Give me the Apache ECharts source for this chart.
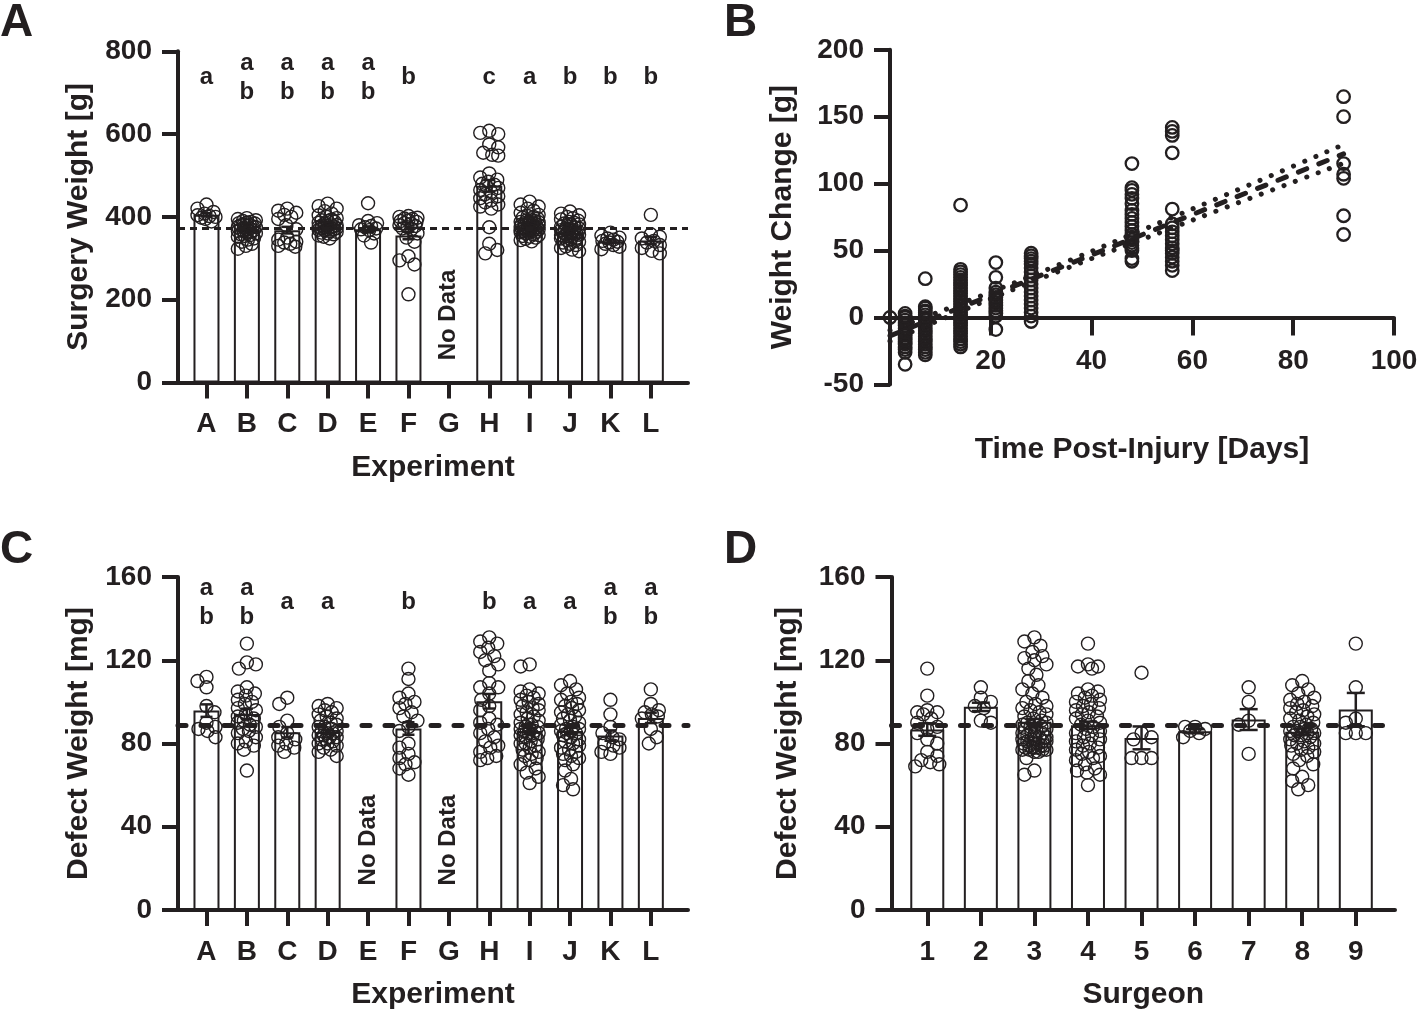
<!DOCTYPE html>
<html>
<head>
<meta charset="utf-8">
<script src="https://cdn.jsdelivr.net/npm/echarts@6/dist/echarts.min.js"></script>
<style>html,body{margin:0;padding:0;background:#fff}#chart{width:1424px;height:1012px}</style>
</head>
<body>
<div id="chart"></div>
<script>
// ---------------- DATA ----------------
const experimentCats = ['A','B','C','D','E','F','G','H','I','J','K','L'];
const surgeonCats = ['1','2','3','4','5','6','7','8','9'];

// Panel A: surgery weight [g] per experiment
const surgeryWeightPoints = [
  [430, 420, 412, 408, 404, 402, 400, 398, 395, 389],
  [397, 395, 392, 390, 388, 386, 385, 384, 382, 380, 380, 378, 377, 376, 375, 374, 372, 370, 370, 368, 366, 365, 364, 362, 360, 358, 356, 354, 352, 348, 345, 340, 335, 330, 323],
  [420, 415, 410, 405, 400, 395, 380, 370, 350, 345, 340, 338, 335, 330, 328],
  [432, 426, 420, 414, 408, 404, 400, 397, 394, 392, 390, 388, 386, 384, 382, 380, 379, 378, 377, 376, 375, 374, 373, 372, 371, 370, 369, 368, 366, 364, 362, 360, 358, 355, 352, 348],
  [433, 390, 385, 380, 378, 375, 372, 370, 368, 360, 355, 338],
  [402, 400, 398, 396, 395, 392, 390, 388, 385, 383, 380, 378, 375, 372, 370, 360, 350, 340, 305, 295, 285, 213],
  [],
  [608, 603, 600, 575, 568, 555, 550, 548, 505, 495, 490, 485, 480, 478, 475, 470, 465, 460, 455, 450, 445, 440, 435, 430, 425, 420, 375, 335, 320, 312],
  [437, 430, 425, 420, 415, 410, 405, 402, 400, 398, 396, 394, 392, 390, 388, 387, 386, 385, 384, 383, 382, 381, 380, 379, 378, 377, 376, 375, 374, 373, 372, 371, 370, 369, 368, 367, 366, 365, 364, 363, 362, 360, 358, 356, 354, 352, 350, 347, 344, 341],
  [413, 408, 404, 400, 397, 394, 391, 388, 386, 384, 382, 380, 378, 376, 374, 372, 370, 369, 368, 366, 365, 364, 362, 361, 360, 358, 357, 356, 354, 353, 352, 350, 348, 346, 344, 342, 340, 338, 335, 332, 329, 325, 321, 317],
  [362, 355, 350, 348, 345, 342, 340, 338, 335, 332, 328, 322],
  [405, 358, 352, 348, 342, 338, 332, 325, 318, 312]
];
const surgeryWeightMeans = [405, 369, 368, 377, 370, 355, null, 475, 373, 361, 341, 343];
const surgeryWeightSEM = [4, 3, 8, 3, 7, 9, null, 14, 2, 3, 4, 9];
const surgeryWeightRef = 373.4;
const surgeryWeightLetters = ['a', 'ab', 'ab', 'ab', 'ab', 'b', '', 'c', 'a', 'b', 'b', 'b'];
const surgeryNoData = ['G'];

// Panel B: weight change [g] vs time post-injury [days]
const timeDays = [0, 3, 7, 14, 21, 28, 48, 56, 90];
const weightChangeByDay = [
  [0],
  [3, 1, 0, -2, -4, -6, -8, -10, -12, -13, -15, -16, -18, -19, -20, -22, -24, -26, -35],
  [29, 8, 7, 5, 4, 2, 0, -2, -4, -6, -8, -10, -12, -14, -16, -18, -20, -22, -24, -26, -28],
  [84, 36, 34, 32, 30, 28, 26, 24, 22, 20, 18, 16, 14, 12, 10, 8, 6, 4, 2, 0, -2, -4, -6, -8, -10, -12, -14, -16, -18, -20, -22],
  [41, 30, 22, 19, 17, 15, 13, 11, 9, 7, 5, 3, 1, -9],
  [48, 46, 44, 42, 40, 37, 34, 31, 28, 25, 22, 19, 16, 13, 10, 7, 4, 1, -3],
  [115, 97, 95, 92, 89, 85, 80, 77, 74, 71, 68, 65, 62, 60, 58, 56, 54, 52, 50, 44, 42],
  [142, 139, 136, 123, 81, 70, 67, 64, 61, 58, 55, 52, 50, 48, 45, 42, 39, 35],
  [165, 150, 115, 107, 104, 76, 62]
];
const fitDays = [0, 90];
const fitValues = [-13.7, 122.2];
const bandDays = [0, 20, 35, 50, 70, 90];
const bandUpper = [-9.7, 19.0, 41.7, 65.3, 97.0, 129.2];
const bandLower = [-17.7, 14.0, 36.7, 58.3, 87.0, 115.2];

// Panel C: defect weight [mg] per experiment
const defectByExperiment = [
  [112, 110, 107, 98, 95, 90, 88, 87, 86, 83],
  [128, 119, 118, 116, 107, 105, 104, 103, 101, 100, 99, 97, 96, 94, 93, 92, 91, 90, 89, 88, 87, 86, 85, 83, 81, 80, 79, 77, 67],
  [102, 99, 91, 88, 85, 83, 82, 80, 79, 78, 76],
  [99, 98, 97, 96, 95, 94, 93, 92, 91, 90, 89, 88, 88, 87, 86, 86, 85, 85, 84, 84, 83, 83, 82, 82, 81, 80, 80, 79, 78, 77, 76, 74],
  [],
  [116, 111, 104, 102, 100, 99, 97, 95, 93, 91, 88, 86, 80, 78, 75, 73, 71, 70, 68, 65],
  [],
  [131, 129, 128, 126, 124, 122, 120, 118, 115, 109, 107, 107, 104, 101, 98, 96, 92, 90, 89, 87, 85, 83, 81, 79, 78, 76, 74, 73, 72],
  [118, 117, 106, 105, 104, 103, 102, 101, 100, 99, 98, 97, 96, 95, 94, 93, 92, 91, 90, 89, 88, 88, 87, 87, 86, 86, 85, 85, 84, 84, 83, 82, 81, 80, 80, 79, 78, 77, 76, 75, 74, 73, 72, 70, 68, 66, 64, 61],
  [110, 108, 106, 104, 102, 101, 100, 99, 98, 97, 96, 95, 94, 93, 92, 91, 90, 89, 88, 87, 87, 86, 86, 85, 85, 84, 83, 82, 81, 80, 79, 78, 77, 76, 75, 74, 73, 72, 70, 67, 63, 60, 58],
  [101, 94, 88, 85, 83, 82, 80, 79, 78, 76, 75],
  [106, 99, 96, 95, 94, 93, 92, 87, 83, 80]
];
const defectExpMeans = [95.8, 94.2, 85.4, 85.5, null, 87.2, null, 100.3, 86.0, 86.0, 83.8, 92.3];
const defectExpSEM = [3, 2.5, 2.5, 1, null, 3, null, 3.5, 1.5, 1.5, 2.5, 2.5];
const defectRef = 89;
const defectExpLetters = ['ab', 'ab', 'a', 'a', '', 'b', '', 'b', 'a', 'a', 'ab', 'ab'];
const defectNoData = ['E', 'G'];

// Panel D: defect weight [mg] per surgeon
const defectBySurgeon = [
  [116, 103, 96, 95, 95, 94, 92, 90, 88, 87, 85, 82, 80, 76, 74, 72, 71, 70, 69],
  [107, 102, 100, 98, 97, 91, 90],
  [131, 129, 127, 124, 122, 121, 120, 118, 116, 113, 110, 108, 106, 104, 102, 100, 99, 98, 97, 96, 95, 94, 93, 92, 91, 90, 90, 89, 89, 88, 88, 87, 87, 86, 86, 85, 85, 84, 84, 83, 83, 82, 82, 82, 81, 81, 81, 80, 80, 80, 79, 79, 79, 78, 78, 78, 78, 77, 77, 77, 77, 76, 76, 73, 67, 65],
  [128, 118, 117, 117, 116, 106, 105, 104, 103, 102, 101, 100, 99, 98, 97, 96, 95, 94, 93, 92, 91, 90, 89, 88, 87, 86, 85, 84, 83, 82, 81, 80, 79, 78, 77, 76, 75, 74, 73, 72, 70, 68, 67, 66, 65, 60],
  [114, 85, 83, 82, 73, 73, 73],
  [88, 88, 87, 86, 85, 83],
  [107, 100, 91, 89, 75],
  [110, 108, 106, 104, 102, 101, 100, 99, 98, 97, 96, 95, 94, 93, 92, 91, 90, 89, 88, 88, 87, 87, 86, 86, 85, 85, 84, 84, 83, 82, 81, 80, 80, 79, 78, 77, 76, 75, 74, 72, 70, 68, 64, 62, 60, 58],
  [128, 107, 92, 90, 85, 85, 85]
];
const defectSurgMeans = [86.7, 97.6, 90.5, 88.8, 82.7, 85.9, 91.5, 85.6, 96.3];
const defectSurgSEM = [3, 2, 1.3, 1.7, 5.5, 1, 5, 1.6, 8];

// ---------------- STYLE / LAYOUT ----------------
const INK = '#231f20';
const FONT = 'Liberation Sans';
const tickFont = { fontSize: 28, fontWeight: 'bold', fontFamily: FONT, color: INK };
const nameFont = { fontSize: 30, fontWeight: 'bold', fontFamily: FONT, color: INK };

// deterministic beeswarm layout (pixel space) for scatter-dot columns
function swarm(vals, idx, pxPerCat, pxPerUnit, maxOff, minDist) {
  const placed = [];
  const out = [];
  const order = vals.map((v, i) => i).sort((a, b) => vals[b] - vals[a]);
  order.forEach((i, n) => {
    const py = vals[i] * pxPerUnit;
    const sgn = n % 2 ? -1 : 1;
    let chosen = null, bestD = -1, bestOff = 0;
    for (let k = 0; ; k++) {
      const off = sgn * (k === 0 ? 0 : (k % 2 ? (k + 1) / 2 : -k / 2));
      if (Math.abs(off) > maxOff) break;
      let d = Infinity;
      for (const p of placed) {
        const dd = Math.hypot(off - p[0], py - p[1]);
        if (dd < d) d = dd;
      }
      if (d >= minDist) { chosen = off; break; }
      if (d > bestD) { bestD = d; bestOff = off; }
    }
    if (chosen === null) chosen = bestOff;
    placed.push([chosen, py]);
    out.push([idx + chosen / pxPerCat, vals[i]]);
  });
  return out;
}

function pointsFor(groups, pxPerCat, pxPerUnit, maxOff) {
  let all = [];
  groups.forEach((g, i) => { all = all.concat(swarm(g, i, pxPerCat, pxPerUnit, maxOff, 10)); });
  return all;
}

function errRender(capHalf) {
  return function (params, api) {
    const x = api.value(0), m = api.value(1), s = api.value(2);
    const t = api.coord([x, m + s]), b = api.coord([x, m - s]);
    const st = { stroke: INK, lineWidth: 2.5 };
    return { type: 'group', children: [
      { type: 'line', shape: { x1: t[0], y1: t[1], x2: b[0], y2: b[1] }, style: st },
      { type: 'line', shape: { x1: t[0] - capHalf, y1: t[1], x2: t[0] + capHalf, y2: t[1] }, style: st },
      { type: 'line', shape: { x1: b[0] - capHalf, y1: b[1], x2: b[0] + capHalf, y2: b[1] }, style: st }
    ]};
  };
}

function catXAxis(grid, cats, min, max, name) {
  const vals = cats.map((c, i) => i);
  return {
    gridIndex: grid, type: 'value', min: min, max: max,
    axisLine: { show: true, onZero: false, lineStyle: { color: INK, width: 4 } },
    axisTick: { show: true, customValues: vals, length: 16, lineStyle: { color: INK, width: 4 } },
    axisLabel: { show: true, customValues: vals, margin: 28, formatter: v => cats[Math.round(v)], ...tickFont },
    splitLine: { show: false },
    name: name, nameLocation: 'middle', nameGap: 70, nameTextStyle: nameFont
  };
}
function valYAxis(grid, min, max, interval, name, gap) {
  return {
    gridIndex: grid, type: 'value', min: min, max: max, interval: interval,
    axisLine: { show: true, onZero: false, lineStyle: { color: INK, width: 4 } },
    axisTick: { show: true, length: 16, lineStyle: { color: INK, width: 4 } },
    axisLabel: { margin: 26, ...tickFont },
    splitLine: { show: false },
    name: name, nameLocation: 'middle', nameGap: gap, nameTextStyle: nameFont
  };
}

const circleStyle = { color: 'rgba(255,255,255,0)', borderColor: INK, borderWidth: 1.4, opacity: 1 };

function barPanel(ax, groups, means, sem, ref, refStyle, pxPerCat, pxPerUnit, maxOff, barW, cap) {
  const s = [];
  s.push({
    type: 'bar', xAxisIndex: ax, yAxisIndex: ax, barWidth: barW, z: 2,
    data: means.map((m, i) => m == null ? null : [i, m]).filter(Boolean),
    itemStyle: { color: '#fff', borderColor: INK, borderWidth: 2 },
    markLine: { silent: true, symbol: 'none', label: { show: false }, lineStyle: refStyle, data: [{ yAxis: ref }] }
  });
  s.push({
    type: 'custom', xAxisIndex: ax, yAxisIndex: ax, z: 3,
    renderItem: errRender(cap), encode: { x: 0, y: 1 },
    data: means.map((m, i) => m == null ? null : [i, m, sem[i]]).filter(Boolean)
  });
  s.push({
    type: 'scatter', xAxisIndex: ax, yAxisIndex: ax, z: 4,
    symbol: 'circle', symbolSize: 13, itemStyle: circleStyle,
    data: pointsFor(groups, pxPerCat, pxPerUnit, maxOff)
  });
  return s;
}

const labelItem = { color: 'rgba(0,0,0,0)', opacity: 1 };
function letterSeries(ax, letters, ySingle, yTop, yBot) {
  const data = [];
  letters.forEach((l, i) => {
    if (l.length === 1) data.push({ value: [i, ySingle], name: l });
    else if (l.length === 2) { data.push({ value: [i, yTop], name: l[0] }); data.push({ value: [i, yBot], name: l[1] }); }
  });
  return {
    type: 'scatter', xAxisIndex: ax, yAxisIndex: ax, z: 6, symbolSize: 1,
    itemStyle: labelItem, emphasis: { disabled: true },
    label: { show: true, position: 'inside', formatter: '{b}', fontSize: 24, fontWeight: 'bold', fontFamily: FONT, color: INK, opacity: 1, textBorderWidth: 0 },
    data: data
  };
}
function noDataSeries(ax, cats, which, y) {
  return {
    type: 'scatter', xAxisIndex: ax, yAxisIndex: ax, z: 6, symbolSize: 1,
    itemStyle: labelItem, emphasis: { disabled: true },
    label: { show: true, position: 'inside', rotate: 90, formatter: 'No Data', fontSize: 24, fontWeight: 'bold', fontFamily: FONT, color: INK, opacity: 1, textBorderWidth: 0 },
    data: which.map(c => [cats.indexOf(c), y])
  };
}

const series = [];
// Panel A
series.push(...barPanel(0, surgeryWeightPoints, surgeryWeightMeans, surgeryWeightSEM, surgeryWeightRef,
  { color: INK, width: 3, type: [7, 5] }, 40.4, 331.2 / 800, 9, 26, 6));
series.push(letterSeries(0, surgeryWeightLetters, 738, 772, 700));
series.push(noDataSeries(0, experimentCats, surgeryNoData, 163));

// Panel B
const bPoints = [];
timeDays.forEach((d, i) => weightChangeByDay[i].forEach(v => bPoints.push([d, v])));
series.push({
  type: 'scatter', xAxisIndex: 1, yAxisIndex: 1, z: 4, symbol: 'circle', symbolSize: 12.5,
  itemStyle: { color: 'rgba(255,255,255,0)', borderColor: INK, borderWidth: 2.3, opacity: 1 },
  data: bPoints
});
series.push({
  type: 'line', xAxisIndex: 1, yAxisIndex: 1, z: 5, symbol: 'none',
  lineStyle: { color: INK, width: 5, type: [9, 13], cap: 'round' },
  data: fitDays.map((d, i) => [d, fitValues[i]])
});
series.push({
  type: 'line', xAxisIndex: 1, yAxisIndex: 1, z: 5, symbol: 'none', smooth: true,
  lineStyle: { color: INK, width: 5, type: [0.1, 12], cap: 'round' },
  data: bandDays.map((d, i) => [d, bandUpper[i]])
});
series.push({
  type: 'line', xAxisIndex: 1, yAxisIndex: 1, z: 5, symbol: 'none', smooth: true,
  lineStyle: { color: INK, width: 5, type: [0.1, 12], cap: 'round' },
  data: bandDays.map((d, i) => [d, bandLower[i]])
});

// Panel C
series.push(...barPanel(2, defectByExperiment, defectExpMeans, defectExpSEM, defectRef,
  { color: INK, width: 5, type: [8, 15], cap: 'round' }, 40.4, 333 / 160, 9, 26, 6));
series.push(letterSeries(2, defectExpLetters, 148, 154.4, 140.8));
series.push(noDataSeries(2, experimentCats, defectNoData, 33.6));

// Panel D
series.push(...barPanel(3, defectBySurgeon, defectSurgMeans, defectSurgSEM, defectRef,
  { color: INK, width: 5, type: [8, 15], cap: 'round' }, 53.56, 333 / 160, 12, 34, 9));

const option = {
  animation: false,
  backgroundColor: '#fff',
  grid: [
    { left: 178, top: 51.3, width: 510, height: 331.2 },
    { left: 890, top: 49.8, width: 504, height: 334.6 },
    { left: 178, top: 577, width: 510, height: 333 },
    { left: 891.5, top: 577, width: 503.5, height: 333 }
  ],
  xAxis: [
    catXAxis(0, experimentCats, -0.705, 11.92, 'Experiment'),
    {
      gridIndex: 1, type: 'value', min: 0, max: 100, interval: 20,
      offset: -66.9,
      axisLine: { show: true, onZero: false, lineStyle: { color: INK, width: 4 } },
      axisTick: { show: true, length: 18, lineStyle: { color: INK, width: 4 } },
      axisLabel: { margin: 30, formatter: v => v === 0 ? '' : String(v), ...tickFont },
      splitLine: { show: false },
      name: 'Time Post-Injury [Days]', nameLocation: 'middle', nameGap: 117, nameTextStyle: nameFont
    },
    catXAxis(2, experimentCats, -0.705, 11.92, 'Experiment'),
    catXAxis(3, surgeonCats, -0.668, 8.732, 'Surgeon')
  ],
  yAxis: [
    valYAxis(0, 0, 800, 200, 'Surgery Weight [g]', 84),
    valYAxis(1, -50, 200, 50, 'Weight Change [g]', 92),
    valYAxis(2, 0, 160, 40, 'Defect Weight [mg]', 84),
    valYAxis(3, 0, 160, 40, 'Defect Weight [mg]', 89)
  ],
  graphic: [
    { type: 'text', left: 0, top: 0, style: { text: 'A', fontSize: 46, fontWeight: 'bold', fontFamily: FONT, fill: INK } },
    { type: 'text', left: 724, top: 0, style: { text: 'B', fontSize: 46, fontWeight: 'bold', fontFamily: FONT, fill: INK } },
    { type: 'text', left: 0, top: 527, style: { text: 'C', fontSize: 46, fontWeight: 'bold', fontFamily: FONT, fill: INK } },
    { type: 'text', left: 724, top: 527, style: { text: 'D', fontSize: 46, fontWeight: 'bold', fontFamily: FONT, fill: INK } }
  ],
  series: series
};

const chart = echarts.init(document.getElementById('chart'), null, { renderer: 'canvas' });
chart.setOption(option);
</script>
</body>
</html>
